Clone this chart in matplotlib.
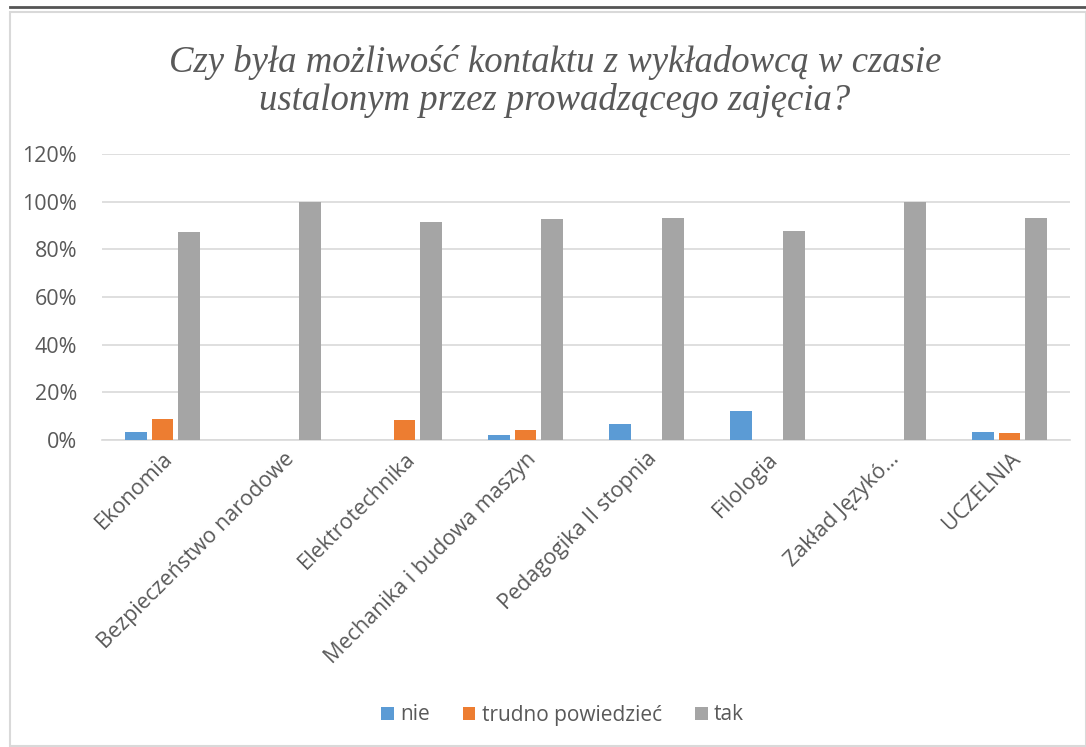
import numpy as np
import matplotlib.pyplot as plt
from matplotlib.patches import Rectangle
from matplotlib.lines import Line2D
from matplotlib.ticker import PercentFormatter

categories = ['Ekonomia', 'Bezpieczeństwo narodowe', 'Elektrotechnika',
              'Mechanika i budowa maszyn', 'Pedagogika II stopnia', 'Filologia',
              'Zakład Językó…', 'UCZELNIA']
nie = [0.034, 0.0, 0.0, 0.023, 0.068, 0.12, 0.0, 0.034]
trudno = [0.089, 0.0, 0.082, 0.044, 0.0, 0.0, 0.0, 0.028]
tak = [0.873, 1.0, 0.915, 0.928, 0.932, 0.877, 1.0, 0.932]
series_names = ['nie', 'trudno powiedzieć', 'tak']
colors = ['#5b9bd5', '#ed7d31', '#a5a5a5']

txt = '#595959'
plt.rcParams['font.family'] = ['Open Sans', 'DejaVu Sans']

fig = plt.figure(figsize=(10.86, 7.47), dpi=100)
# chart frame and top rule
fig.add_artist(Rectangle((10 / 1086, 0.001), 1 - 10 / 1086, 1 - 13 / 747,
                         transform=fig.transFigure, fill=False,
                         edgecolor='#d9d9d9', lw=1.5))
fig.add_artist(Line2D([10 / 1086, 1], [1 - 7 / 747] * 2, transform=fig.transFigure,
                      color='#555555', lw=2))

ax = fig.add_axes([102 / 1086, 1 - 440 / 747, 968 / 1086, 286 / 747])
x = np.arange(len(categories))
for i, vals in enumerate([nie, trudno, tak]):
    ax.bar(x + (i - 1) * 0.22, vals, width=0.18, color=colors[i],
           label=series_names[i], zorder=3)

ax.set_xlim(-0.5, len(categories) - 0.5)
ax.set_ylim(0, 1.2)
ax.set_yticks(np.arange(0, 1.21, 0.2))
ax.yaxis.set_major_formatter(PercentFormatter(1.0, decimals=0))
ax.grid(axis='y', color='#d9d9d9', lw=1.2, zorder=0)
for s in ['top', 'right', 'left']:
    ax.spines[s].set_visible(False)
ax.spines['bottom'].set_color('#d9d9d9')
ax.spines['bottom'].set_linewidth(1.2)
ax.tick_params(axis='both', length=0, colors=txt, labelsize=15.5)
ax.tick_params(axis='y', pad=18)
ax.tick_params(axis='x', pad=6)
ax.set_xticks(x)
ax.set_xticklabels(categories, rotation=45, ha='right', rotation_mode='anchor')

fig.text(0.511, 1 - 62 / 747, 'Czy była możliwość kontaktu z wykładowcą w czasie',
         ha='center', va='center', fontsize=26.5, style='italic',
         family='Liberation Serif', color=txt)
fig.text(0.511, 1 - 101 / 747, 'ustalonym przez prowadzącego zajęcia?',
         ha='center', va='center', fontsize=26.5, style='italic',
         family='Liberation Serif', color=txt)

fig.legend(loc='center', bbox_to_anchor=(0.518, 1 - 715 / 747), ncol=3,
           frameon=False, fontsize=15, labelcolor=txt, handlelength=0.6,
           handleheight=0.6, columnspacing=1.6, handletextpad=0.3)

plt.savefig('out.png', dpi=100)
